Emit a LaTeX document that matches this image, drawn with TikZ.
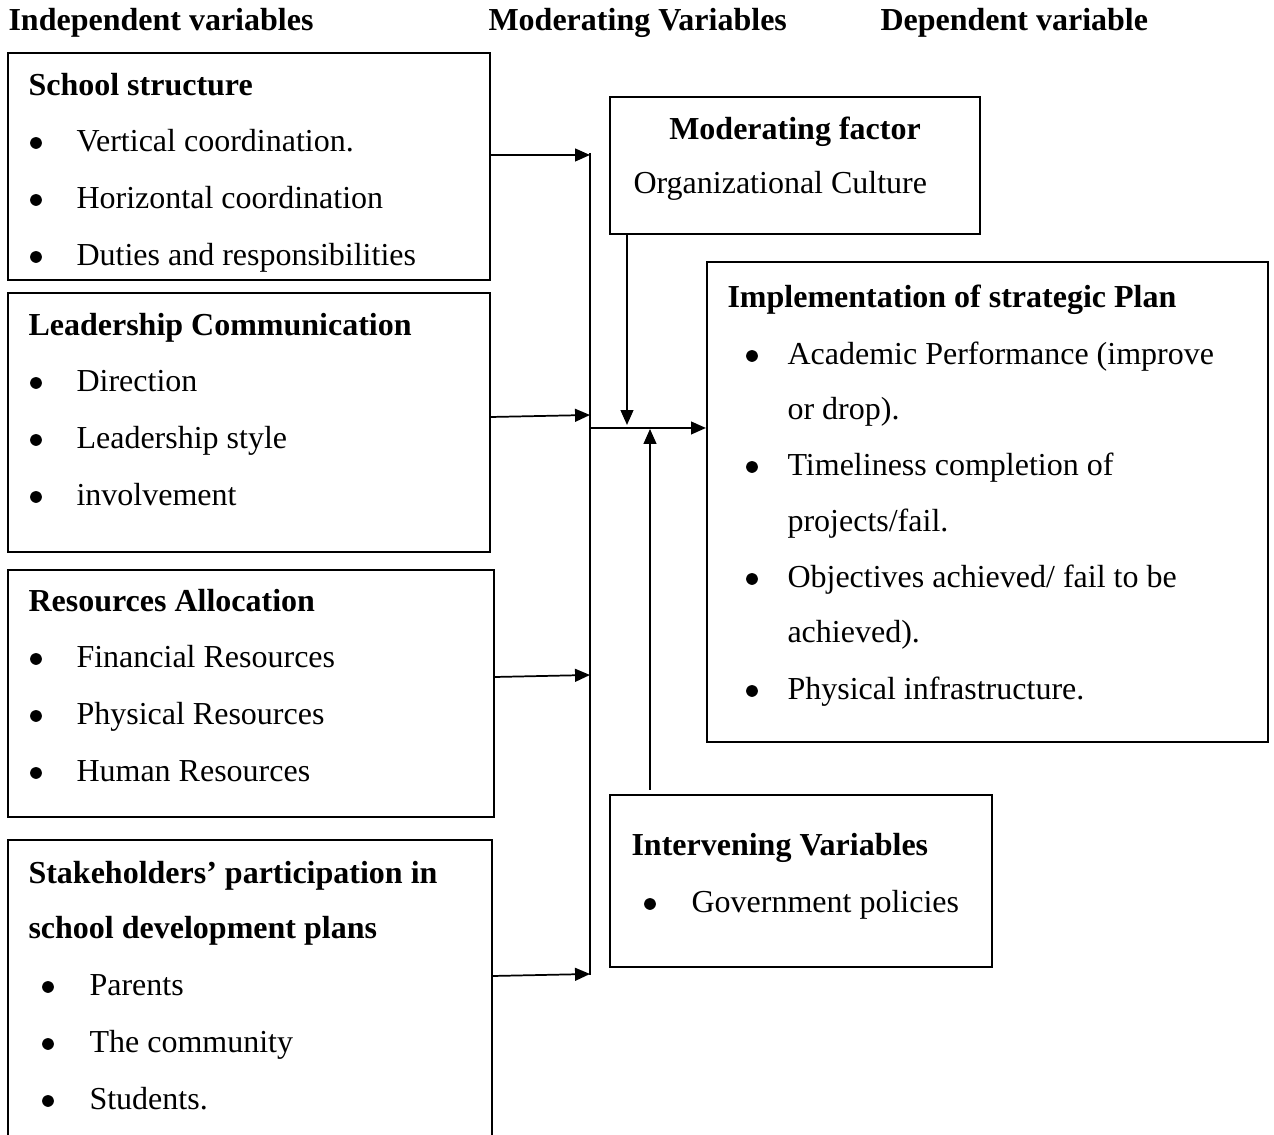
\documentclass[tikz,border=0pt]{standalone}
\usepackage{fontspec}
\setmainfont{Liberation Serif}
\usetikzlibrary{positioning, fit, arrows.meta}

\begin{document}
\begin{tikzpicture}[x=0.375pt, y=-0.375pt,
  box/.style={draw, line width=0.8pt, inner sep=0pt},
  txt/.style={anchor=base west, inner sep=0pt, font=\fontsize{12}{14}\selectfont},
  hd/.style={txt, font=\fontsize{12}{14}\selectfont\bfseries},
  dot/.style={circle, fill, inner sep=0pt, minimum size=4.4pt},
  arr/.style={line width=0.65pt, -{Triangle[length=5.6pt, width=4.8pt]}}]
\useasboundingbox (0,0) rectangle (1274,1135);
\clip (0,0) rectangle (1274,1135);

% column headings
\node[hd] (hInd) at (8,31) {Independent variables};
\node[hd] (hMod) at (488,31) {Moderating Variables};
\node[hd] (hDep) at (880,31) {Dependent variable};

% independent variable boxes
\node[box, fit={(8,53) (490,280)}] (ss) {};
\node[hd] (ssT) at (28,96) {School structure};
\foreach \t [count=\i] in {Vertical coordination., Horizontal coordination, Duties and responsibilities} {
  \node[dot] (ssD\i) at (36,{143+57*(\i-1)}) {};
  \node[txt] (ss\i) at (76,{152+57*(\i-1)}) {\t};
}

\node[box, fit={(8,293) (490,552)}] (lc) {};
\node[hd] (lcT) at (28,336) {Leadership Communication};
\foreach \t [count=\i] in {Direction, Leadership style, involvement} {
  \node[dot] (lcD\i) at (36,{383+57*(\i-1)}) {};
  \node[txt] (lc\i) at (76,{392+57*(\i-1)}) {\t};
}

\node[box, fit={(8,570) (494,817)}] (ra) {};
\node[hd] (raT) at (28,612) {Resources Allocation};
\foreach \t [count=\i] in {Financial Resources, Physical Resources, Human Resources} {
  \node[dot] (raD\i) at (36,{659+57*(\i-1)}) {};
  \node[txt] (ra\i) at (76,{668+57*(\i-1)}) {\t};
}

\node[box, fit={(8,840) (492,1160)}] (sh) {};
\node[hd] (shT1) at (28,884) {Stakeholders’ participation in};
\node[hd] (shT2) at (28,939) {school development plans};
\foreach \t [count=\i] in {Parents, The community, Students.} {
  \node[dot] (shD\i) at (48,{987+57*(\i-1)}) {};
  \node[txt] (sh\i) at (89,{996+57*(\i-1)}) {\t};
}

% moderating and intervening boxes
\node[box, fit={(610,97) (980,234)}] (mod) {};
\node[hd, anchor=base] (modT) at (795,140) {Moderating factor};
\node[txt] (mod1) at (633,194) {Organizational Culture};

\node[box, fit={(610,795) (992,967)}] (int) {};
\node[hd] (intT) at (631,856) {Intervening Variables};
\node[dot] (intD1) at (650,904) {};
\node[txt] (int1) at (691,913) {Government policies};

% dependent variable box
\node[box, fit={(707,262) (1268,742)}] (imp) {};
\node[hd] (impT) at (727,308) {Implementation of strategic Plan};
\foreach \y/\t in {365/{Academic Performance (improve}, 476/{Timeliness completion of}, 588/{Objectives achieved/ fail to be}, 700/{Physical infrastructure.}} {
  \node[dot] at (752,\y-9) {};
  \node[txt] at (787,\y) {\t};
}
\node[txt] (impC1) at (787,420) {or drop).};
\node[txt] (impC2) at (787,532) {projects/fail.};
\node[txt] (impC3) at (787,643) {achieved).};

% connectors
\coordinate (busTop) at (590,153);
\coordinate (busBot) at (590,975);
\coordinate (hub) at (590,428);
\coordinate (modIn) at (627,425);
\coordinate (intIn) at (650,429);
\coordinate (intOut) at (650,790);
\draw[line width=0.5pt] (busTop) -- (busBot);
\draw[arr] (ss.east |- 0,155) -- (590,155);
\draw[arr] (lc.east |- 0,417) -- (590,415);
\draw[arr] (ra.east |- 0,677) -- (590,675);
\draw[arr] (sh.east |- 0,976) -- (590,974);
\draw[arr] (hub) -- (imp.west |- hub);
\draw[arr] (mod.south -| modIn) -- (modIn);
\draw[arr] (intOut) -- (intIn);
\end{tikzpicture}
\end{document}
